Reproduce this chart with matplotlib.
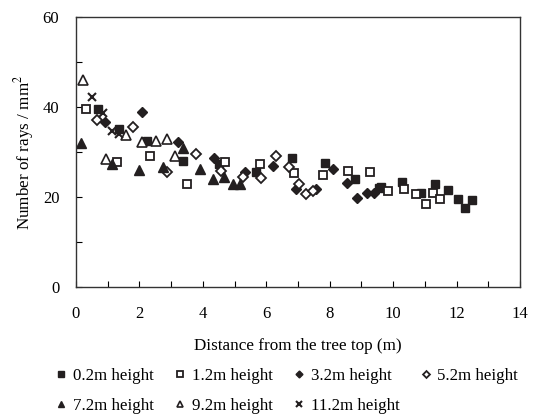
import matplotlib
matplotlib.use("Agg")
import matplotlib.pyplot as plt

plt.rcParams['font.family'] = ['Liberation Serif', 'DejaVu Serif']
plt.rcParams['mathtext.fontset'] = 'stix'

# distance from tree top (m) and number of rays / mm2, per sampling height
x_02 = [0.7, 1.35, 2.25, 3.36, 4.5, 5.69, 6.82, 7.85, 8.8, 9.55, 9.61, 10.29, 10.87, 11.32, 11.72, 12.03, 12.27, 12.48]
y_02 = [39.5, 35.2, 32.5, 28.1, 27.3, 25.5, 28.6, 27.5, 24.1, 22.1, 22.2, 23.3, 20.8, 22.9, 21.6, 19.6, 17.6, 19.3]

x_12 = [0.3, 1.29, 2.34, 3.5, 4.71, 5.79, 6.87, 7.8, 8.59, 9.27, 9.85, 10.33, 10.71, 11.03, 11.27, 11.48]
y_12 = [39.6, 27.7, 29.1, 23.0, 27.8, 27.3, 25.4, 24.9, 25.8, 25.6, 21.3, 21.8, 20.6, 18.4, 20.8, 19.6]

x_32 = [0.91, 2.09, 3.23, 4.34, 5.34, 6.2, 6.95, 7.58, 8.09, 8.53, 8.87, 9.16, 9.4]
y_32 = [36.7, 38.9, 32.3, 28.6, 25.6, 27.0, 21.7, 21.8, 26.3, 23.2, 19.8, 20.8, 21.0]

x_52 = [0.67, 1.81, 2.87, 3.78, 4.58, 5.27, 5.84, 6.32, 6.71, 7.03, 7.26, 7.47]
y_52 = [37.1, 35.6, 25.6, 29.5, 25.8, 24.5, 24.3, 29.2, 26.6, 22.8, 20.7, 21.3]

x_72 = [0.15, 1.13, 2.0, 2.74, 3.37, 3.9, 4.31, 4.66, 4.94, 5.17]
y_72 = [32.1, 27.3, 26.1, 26.6, 31.0, 26.2, 24.1, 24.4, 22.9, 22.9]

x_92 = [0.23, 0.95, 1.58, 2.08, 2.53, 2.87, 3.13]
y_92 = [46.0, 28.4, 33.8, 32.3, 32.5, 33.0, 29.1]

x_112 = [0.5, 0.86, 1.13, 1.37]
y_112 = [42.2, 38.7, 34.7, 34.0]

fig = plt.figure(figsize=(5.36, 4.16), dpi=100)
ax = fig.add_axes([76 / 536, 1 - 287 / 416, 444 / 536, 270 / 416])

k = '#231f20'
ax.plot(x_02, y_02, 's', ms=6, mfc=k, mec=k, mew=1.0, ls='none', label='0.2m height')
ax.plot(x_12, y_12, 's', ms=6, mfc='white', mec=k, mew=1.3, ls='none', label='1.2m height')
ax.plot(x_32, y_32, 'D', ms=5, mfc=k, mec=k, mew=1.0, ls='none', label='3.2m height')
ax.plot(x_52, y_52, 'D', ms=5, mfc='white', mec=k, mew=1.3, ls='none', label='5.2m height')
ax.plot(x_72, y_72, '^', ms=6.5, mfc=k, mec=k, mew=1.0, ls='none', label='7.2m height')
ax.plot(x_92, y_92, '^', ms=6.5, mfc='white', mec=k, mew=1.2, ls='none', label='9.2m height')
ax.plot(x_112, y_112, 'x', ms=6, mec=k, mew=1.5, ls='none', label='11.2m height')

ax.set_xlim(0, 14)
ax.set_ylim(0, 60)
ax.set_xticks(range(0, 15))
ax.set_xticklabels([str(v) if v % 2 == 0 else '' for v in range(0, 15)])
ax.set_yticks(range(0, 61, 10))
ax.set_yticklabels([str(v) if v % 20 == 0 else '' for v in range(0, 61, 10)])
ax.tick_params(direction='in', length=4, width=0.8, labelsize=12)
ax.tick_params(axis='x', pad=14)
ax.tick_params(axis='y', pad=12)
for s in ax.spines.values():
    s.set_linewidth(1.0)
    s.set_color('#333333')

ax.set_xlabel('Distance from the tree top (m)', fontsize=12.3, labelpad=11)
ax.set_ylabel('Number of rays / mm$^2$', fontsize=12.3, labelpad=5)

# legend row-major: reorder for column filling
h, l = ax.get_legend_handles_labels()
order = [0, 4, 1, 5, 2, 6, 3]
fig.legend([h[i] for i in order], [l[i] for i in order], ncol=4,
           loc='upper left', bbox_to_anchor=(0.088, 0.132),
           frameon=False, fontsize=12.2, markerscale=0.7,
           handlelength=0.8, handletextpad=0.3, columnspacing=1.15,
           labelspacing=0.85, borderaxespad=0)

fig.savefig('out.png', dpi=100)
